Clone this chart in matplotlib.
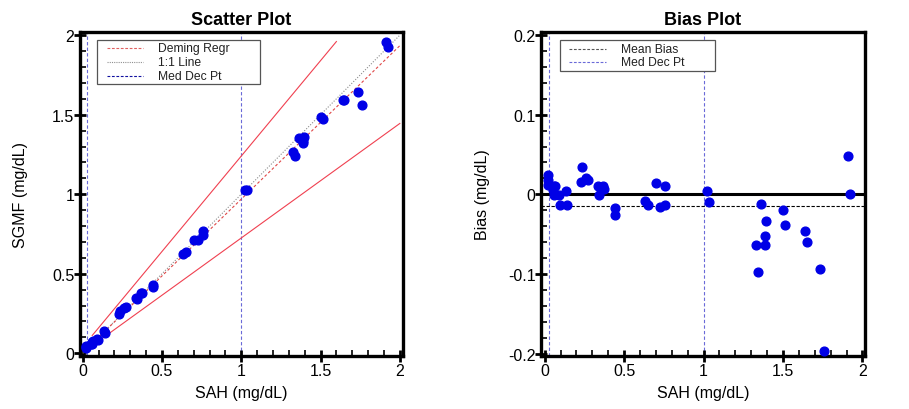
import matplotlib
matplotlib.use("Agg")
import matplotlib.pyplot as plt
from matplotlib.ticker import MultipleLocator, FuncFormatter
from matplotlib.patches import Rectangle
import numpy as np

plt.rcParams['font.family'] = ['Liberation Sans', 'DejaVu Sans']
plt.rcParams['axes.unicode_minus'] = False

# ---- data ----
sah = [0.019, 0.021, 0.021, 0.057, 0.067, 0.052, 0.061, 0.088, 0.099, 0.134,
       0.140, 0.233, 0.231, 0.262, 0.270, 0.338, 0.365, 0.371, 0.340, 0.445,
       0.445, 0.633, 0.650, 0.700, 0.757, 0.728, 0.759, 1.021, 1.036, 1.363,
       1.327, 1.340, 1.388, 1.388, 1.396, 1.503, 1.514, 1.639, 1.650, 1.734,
       1.761, 1.912, 1.923]
sgmf = [0.043, 0.039, 0.033, 0.068, 0.078, 0.057, 0.060, 0.087, 0.086, 0.138,
        0.127, 0.267, 0.247, 0.283, 0.288, 0.348, 0.376, 0.378, 0.339, 0.428,
        0.419, 0.625, 0.637, 0.714, 0.767, 0.712, 0.746, 1.025, 1.026, 1.351,
        1.263, 1.243, 1.336, 1.324, 1.362, 1.483, 1.475, 1.593, 1.590, 1.640,
        1.564, 1.960, 1.923]
deming_slope, deming_icpt = 0.965, 0.004
upper_slope, upper_icpt = 1.20, 0.04
lower_slope, lower_icpt = 0.72, 0.005
line_x_start = 0.06
upper_x_end = 1.6
med_dec_pts = [0.03, 1.0]
mean_bias = -0.0147

sah_a = np.array(sah)
sgmf_a = np.array(sgmf)
bias = sgmf_a - sah_a

W, H = 909, 410
fig = plt.figure(figsize=(W / 100, H / 100), dpi=100)
ax1 = fig.add_axes([80 / W, 1 - 357 / H, 323 / W, 324 / H])
ax2 = fig.add_axes([541 / W, 1 - 357 / H, 324 / W, 324 / H])

pt_color = '#0000e6'
fmt = FuncFormatter(lambda v, p: f'{v:g}' if abs(v) > 1e-9 else '0')


def style(ax, ymaj, ymin):
    for s in ax.spines.values():
        s.set_linewidth(2.4)
        s.set_color('black')
    ax.xaxis.set_major_locator(MultipleLocator(0.5))
    ax.xaxis.set_minor_locator(MultipleLocator(0.1))
    ax.yaxis.set_major_locator(MultipleLocator(ymaj))
    ax.yaxis.set_minor_locator(MultipleLocator(ymin))
    ax.xaxis.set_major_formatter(fmt)
    ax.yaxis.set_major_formatter(fmt)
    ax.tick_params(which='major', direction='inout', length=8, width=2,
                   labelsize=11.5, pad=1)
    ax.tick_params(axis='y', which='major', pad=0)
    ax.tick_params(which='minor', direction='in', length=4, width=1.2)


def legend_box(ax, box, rows, hx, tx, entries):
    x0, y0, x1, y1 = box
    ax.add_patch(Rectangle((x0, y0), x1 - x0, y1 - y0, transform=ax.transAxes,
                           fill=True, facecolor='white', edgecolor='#555555',
                           lw=0.9, zorder=6, clip_on=False))
    for yy, (lab, col, ls) in zip(rows, entries):
        ax.plot(hx, [yy, yy], transform=ax.transAxes, color=col, lw=0.8,
                ls=ls, zorder=7, clip_on=False)
        ax.text(tx, yy, lab, transform=ax.transAxes, fontsize=8.7,
                color='#222222', va='center', ha='left', zorder=7)


# ---- Scatter plot ----
xs = np.array([line_x_start, 2.0])
ax1.plot([0, 2.0], [0, 2.0], color='#8c8c8c', lw=0.8, ls=(0, (1, 1.5)), zorder=2)
ax1.plot(xs, deming_slope * xs + deming_icpt, color='#e04848', lw=0.8,
         ls=(0, (2.5, 2)), zorder=2)
xu = np.array([line_x_start, upper_x_end])
ax1.plot(xu, upper_slope * xu + upper_icpt, color='#f04050', lw=0.8, zorder=2)
ax1.plot(xs, lower_slope * xs + lower_icpt, color='#f04050', lw=0.8, zorder=2)
for m in med_dec_pts:
    ax1.axvline(m, color='#6a6ad8', lw=0.8, ls=(0, (3, 2)), zorder=1)
ax1.plot(sah_a, sgmf_a, 'o', ms=6.3, color=pt_color, mec=pt_color, zorder=4)
ax1.set_xlim(-0.017, 2.02)
ax1.set_ylim(-0.017, 2.02)
style(ax1, 0.5, 0.1)
ax1.set_title('Scatter Plot', fontsize=13, fontweight='bold', pad=6)
ax1.set_xlabel('SAH (mg/dL)', fontsize=11.5)
ax1.set_ylabel('SGMF (mg/dL)', fontsize=11.5)
ax1.xaxis.set_label_coords(0.5, -0.088)
ax1.yaxis.set_label_coords(-0.16, 0.5)
legend_box(ax1, (0.054, 0.839, 0.557, 0.976), [0.950, 0.907, 0.865],
           [0.083, 0.196], 0.242,
           [('Deming Regr', '#e06060', (0, (2.5, 1.5))),
            ('1:1 Line', '#909090', (0, (1, 1))),
            ('Med Dec Pt', '#1010a0', (0, (2.5, 1.5)))])

# ---- Bias plot ----
ax2.axhline(0, color='black', lw=2.2, zorder=2)
ax2.axhline(mean_bias, color='black', lw=0.8, ls=(0, (3, 1.5)), zorder=2)
for m in med_dec_pts:
    ax2.axvline(m, color='#6a6ad8', lw=0.8, ls=(0, (3, 2)), zorder=1)
ax2.plot(sah_a, bias, 'o', ms=6.3, color=pt_color, mec=pt_color, zorder=4)
ax2.set_xlim(-0.023, 2.016)
ax2.set_ylim(-0.203, 0.2038)
style(ax2, 0.1, 0.02)
ax2.set_title('Bias Plot', fontsize=13, fontweight='bold', pad=6)
ax2.set_xlabel('SAH (mg/dL)', fontsize=11.5)
ax2.set_ylabel('Bias (mg/dL)', fontsize=11.5)
ax2.xaxis.set_label_coords(0.5, -0.088)
ax2.yaxis.set_label_coords(-0.157, 0.5)
legend_box(ax2, (0.0586, 0.880, 0.538, 0.976), [0.948, 0.908],
           [0.0864, 0.20], 0.247,
           [('Mean Bias', '#555555', (0, (2.5, 1.5))),
            ('Med Dec Pt', '#6a6ad8', (0, (2.5, 1.5)))])

fig.savefig('out.png', dpi=100)
